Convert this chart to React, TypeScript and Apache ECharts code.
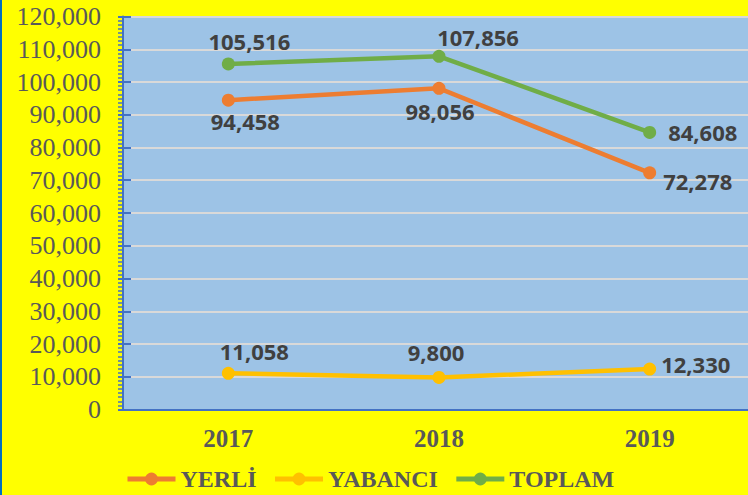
import React, { useEffect, useRef } from "react";
import * as echarts from "echarts";

const years = ["2017", "2018", "2019"];
const seriesNames = ["YERLİ", "YABANCI", "TOPLAM"];
const yerli = [94458, 98056, 72278];
const yabanci = [11058, 9800, 12330];
const toplam = [105516, 107856, 84608];

const colors = ["#ED7D31", "#FFC000", "#70AD47"];

// label placement per series / point: [position, offsetX, offsetY]
const labelPlacement: [string, number, number][][] = [
  [["bottom", 17, -2], ["bottom", 1, 0], ["right", 2, 8]],
  [["top", 26, 0], ["top", -3, -3], ["right", 0, -5]],
  [["top", 21, 0], ["top", 39, 3], ["right", 7, 0]],
];

const fmt = (v: number) => v.toLocaleString("en-US");

export default function App() {
  const ref = useRef<HTMLDivElement>(null);
  useEffect(() => {
    if (!ref.current) return;
    const chart = echarts.init(ref.current, undefined, { renderer: "svg" });
    const allValues = [yerli, yabanci, toplam];
    const series = allValues.map((vals, si) => ({
      name: seriesNames[si],
      type: "line",
      xAxisIndex: 0,
      yAxisIndex: 0,
      symbol: "circle",
      symbolSize: 13,
      color: colors[si],
      lineStyle: { width: 4.5, color: colors[si] },
      itemStyle: { color: colors[si] },
      data: vals.map((v, i) => ({
        value: v,
        label: {
          show: true,
          position: labelPlacement[si][i][0],
          offset: [labelPlacement[si][i][1], labelPlacement[si][i][2]],
          formatter: () => fmt(v),
          fontFamily: "Open Sans",
          fontWeight: "bold",
          fontSize: 22,
          color: "#404040",
        },
      })),
    }));
    chart.setOption({
      animation: false,
      backgroundColor: "#FFFF00",
      graphic: [
        {
          type: "rect",
          left: 0,
          top: 0,
          shape: { x: 0, y: 0, width: 2, height: 495 },
          style: { fill: "#0070C0" },
        },
      ],
      legend: {
        top: 462,
        left: 120,
        itemWidth: 48,
        itemHeight: 16,
        itemGap: 16,
        data: seriesNames,
        lineStyle: { width: 5 },
        textStyle: {
          fontFamily: "Liberation Serif",
          fontWeight: "bold",
          fontSize: 24,
          color: "#595959",
        },
      },
      grid: {
        left: 123,
        top: 16.5,
        width: 632,
        bottom: 85.5,
        show: true,
        backgroundColor: "#9DC3E6",
        borderWidth: 0,
        containLabel: false,
      },
      xAxis: [
        {
          type: "category",
          data: years,
          boundaryGap: true,
          axisLine: { show: false },
          axisTick: { show: false },
          axisLabel: {
            margin: 16,
            fontFamily: "Liberation Serif",
            fontWeight: "bold",
            fontSize: 25,
            color: "#595959",
          },
        },
        {
          type: "category",
          data: years,
          position: "top",
          axisLine: { show: true, lineStyle: { color: "#4472C4", width: 2 } },
          axisTick: { show: false },
          axisLabel: { show: false },
        },
      ],
      yAxis: [
        {
          type: "value",
          min: 0,
          max: 120000,
          interval: 10000,
          position: "left",
          axisLine: { show: true, lineStyle: { color: "#4472C4", width: 2 } },
          axisTick: { show: true, inside: false, length: 5, lineStyle: { color: "#4472C4", width: 2 } },
          minorTick: { show: true, splitNumber: 8, length: 5, lineStyle: { color: "#4472C4", width: 1.5 } },
          splitLine: { show: true, lineStyle: { color: "#D9D9D9", width: 2 } },
          axisLabel: {
            margin: 22,
            fontFamily: "Liberation Serif",
            fontSize: 26,
            color: "#595959",
            formatter: (v: number) => fmt(v),
          },
        },
        {
          type: "value",
          min: 0,
          max: 120000,
          interval: 10000,
          position: "left",
          offset: 0,
          axisLine: { show: false },
          axisTick: { show: true, inside: true, length: 8, lineStyle: { color: "#4472C4", width: 2 } },
          splitLine: { show: false },
          axisLabel: { show: false },
        },
      ],
      series,
    });
    return () => chart.dispose();
  }, []);
  return (
    <div style={{ position: "fixed", left: 0, top: 0, width: 748, height: 495, overflow: "hidden" }}>
      <div ref={ref} style={{ width: 760, height: 495 }} />
    </div>
  );
}
